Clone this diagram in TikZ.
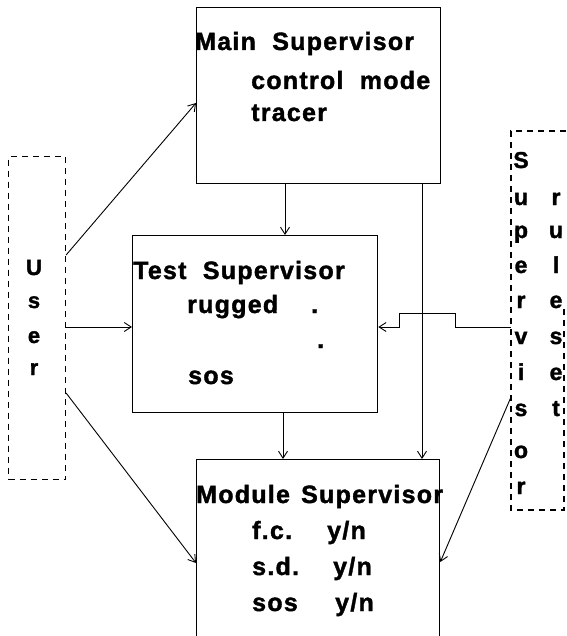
\documentclass[tikz,border=0pt]{standalone}
\usepackage{fontspec}
\setmainfont{Liberation Sans Bold}[LetterSpace=5,FakeBold=1.5]
\usetikzlibrary{arrows.meta}
\tikzset{
  box/.style={draw, line width=1.3pt},
  conn/.style={line width=0.9pt, -{Straight Barb[length=7pt,width=9pt,line width=0.9pt]}},
  userbox/.style={draw, line width=1.1pt, dash pattern=on 6pt off 5pt},
  txt/.style={anchor=base west, inner sep=0pt, font=\fontsize{25}{25}\selectfont},
  ltr/.style={anchor=base, inner sep=0pt, font=\fontsize{23}{23}\selectfont},
  ultr/.style={anchor=base, inner sep=0pt, font=\fontsize{22}{22}\selectfont},
}
\begin{document}
\begin{tikzpicture}[x=1pt,y=-1pt]
\useasboundingbox (0,0) rectangle (566,636);
\clip (0,0) rectangle (566,636);
% boxes
\node[box, anchor=north west, minimum width=244pt, minimum height=176pt, inner sep=0pt] (main) at (196,7) {};
\node[box, anchor=north west, minimum width=245pt, minimum height=177pt, inner sep=0pt] (test) at (132,235) {};
\node[box, anchor=north west, minimum width=243pt, minimum height=200pt, inner sep=0pt] (module) at (196,459) {};
\node[userbox, anchor=north west, minimum width=57pt, minimum height=323pt, inner sep=0pt] (user) at (8,156) {};
\draw[line width=1.1pt, dash pattern=on 6pt off 5pt] (566,131) -- (511,131) -- (511,510) -- (564,510) -- (564,305);
\coordinate (rs1) at (511,327);
\coordinate (rs2) at (511,397);
% texts
\node[txt] (t1) at (195,50) {Main\ \ Supervisor};
\node[txt] (t2) at (251,89) {control\ \ mode};
\node[txt] (t3) at (251,121) {tracer};
\node[txt] (t4) at (133,279) {Test\ \ Supervisor};
\node[txt] (t5) at (187,313) {rugged};
\node[txt] (d1) at (311,313) {.};
\node[txt] (d2) at (317,348) {.};
\node[txt] (t6) at (188,384) {sos};
\node[txt] (t7) at (196,503) {Module\hspace{0.45em}Supervisor};
\node[txt] (t8) at (252,539) {f.c.};
\node[txt] (t9) at (327,539) {y/n};
\node[txt] (t10) at (252,575) {s.d.};
\node[txt] (t11) at (333,575) {y/n};
\node[txt] (t12) at (252,611) {sos};
\node[txt] (t13) at (335,611) {y/n};
% user letters
\node[ultr] (u1) at (34,275) {U};
\node[ultr] (u2) at (34,308) {s};
\node[ultr] (u3) at (34,343) {e};
\node[ultr] (u4) at (34,375) {r};
% supervisor letters
\node[ltr] (s1) at (521,168) {S};
\node[ltr] (s2) at (521,205) {u};
\node[ltr] (s3) at (521,238) {p};
\node[ltr] (s4) at (521,273) {e};
\node[ltr] (s5) at (521,308) {r};
\node[ltr] (s6) at (521,344) {v};
\node[ltr] (s7) at (521,380) {i};
\node[ltr] (s8) at (521,416) {s};
\node[ltr] (s9) at (521,458) {o};
\node[ltr] (s10) at (521,494) {r};
\node[ltr] (r1) at (556,205) {r};
\node[ltr] (r2) at (556,238) {u};
\node[ltr] (r3) at (556,273) {l};
\node[ltr] (r4) at (556,308) {e};
\node[ltr] (r5) at (556,344) {s};
\node[ltr] (r6) at (556,380) {e};
\node[ltr] (r7) at (556,416) {t};
% connectors
\draw[conn] (main.south -| 285,0) -- (test.north -| 285,0);
\draw[conn] (main.south -| 422,0) -- (module.north -| 422,0);
\draw[conn] (test.south -| 283,0) -- (module.north -| 283,0);
\draw[conn] (user.east |- 0,255) -- (main.west |- 0,103);
\draw[conn] (user.east |- 0,327) -- (test.west |- 0,327);
\draw[conn] (user.east |- 0,393) -- (module.west |- 0,563);
\draw[conn] (rs1) -- (455,327) -- (455,313) -- (399,313) -- (399,327) -- (test.east |- 0,327);
\draw[conn] (rs2) -- (module.east |- 0,562);
\end{tikzpicture}
\end{document}
